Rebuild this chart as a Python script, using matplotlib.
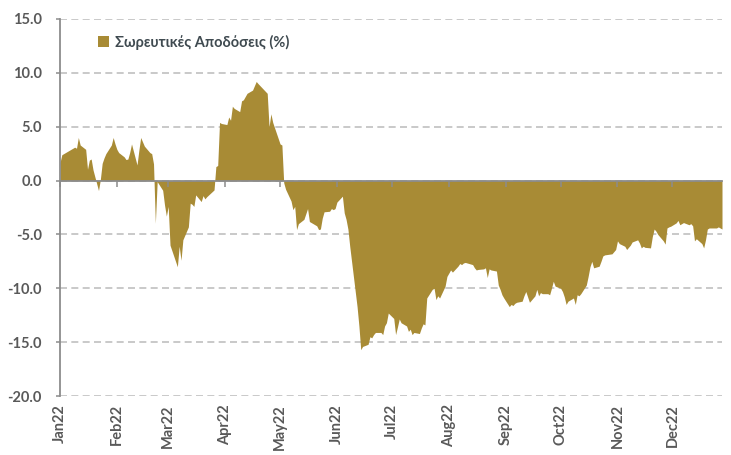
import matplotlib
matplotlib.use("Agg")
import matplotlib.pyplot as plt
import matplotlib.dates as mdates
import pandas as pd

# cumulative returns (%)
jan_dates = ["01-03", "01-04", "01-05", "01-07", "01-10", "01-11", "01-12", "01-13", "01-14", "01-17",
             "01-18", "01-19", "01-20", "01-21", "01-24", "01-25", "01-26", "01-27", "01-28", "01-31"]
jan_vals = [1.67, 2.4, 2.5, 2.7, 3.0, 3.1, 3.0, 4.0, 3.3, 2.9,
            1.05, 1.9, 2.0, 1.0, -0.93, 0.1, 1.6, 2.1, 2.5, 3.3]
feb_dates = ["02-01", "02-02", "02-03", "02-04", "02-07", "02-08", "02-09", "02-10", "02-11", "02-14",
             "02-15", "02-16", "02-17", "02-18", "02-21", "02-22", "02-23", "02-24", "02-25", "02-28"]
feb_vals = [4.0, 3.4, 2.9, 2.6, 2.2, 1.95, 2.0, 2.6, 3.4, 1.45,
            2.8, 4.0, 3.6, 3.2, 2.6, 2.5, 1.55, -3.96, -0.1, -0.9]
mar_dates = ["03-01", "03-02", "03-03", "03-04", "03-08", "03-09", "03-10", "03-11", "03-14", "03-15",
             "03-16", "03-17", "03-18", "03-21", "03-22", "03-23", "03-24", "03-28", "03-29", "03-30", "03-31"]
mar_vals = [-2.26, -3.3, -2.4, -6.0, -8.0, -6.1, -7.4, -5.5, -4.3, -2.1,
            -2.2, -2.4, -1.33, -1.95, -1.4, -1.7, -1.5, -0.87, 1.3, 1.4, 5.4]
apr_dates = ["04-01", "04-04", "04-05", "04-06", "04-07", "04-08", "04-11", "04-12", "04-13", "04-14",
             "04-15", "04-18", "04-19", "04-20", "04-21", "04-26", "04-27", "04-28", "04-29"]
apr_vals = [5.3, 5.2, 5.9, 5.6, 6.9, 6.7, 6.4, 7.4, 7.5, 7.8,
            8.1, 8.4, 8.8, 9.2, 9.0, 8.1, 5.0, 6.2, 5.4]
may_dates = ["05-02", "05-03", "05-04", "05-05", "05-06", "05-09", "05-10", "05-11", "05-12", "05-13",
             "05-16", "05-17", "05-18", "05-19", "05-20", "05-23", "05-24", "05-25", "05-26", "05-27",
             "05-30", "05-31"]
may_vals = [3.9, 3.4, 3.3, -0.2, -0.8, -1.9, -2.7, -2.4, -4.55, -4.0,
            -3.6, -3.1, -2.6, -3.8, -3.9, -4.2, -4.55, -4.5, -3.5, -2.9,
            -2.85, -2.6]
jun_dates = ["06-01", "06-02", "06-03", "06-06", "06-07", "06-08", "06-09", "06-10", "06-14", "06-15",
             "06-16", "06-17", "06-20", "06-21", "06-22", "06-23", "06-24", "06-27", "06-28", "06-29", "06-30"]
jun_vals = [-2.7, -2.6, -2.0, -1.45, -3.0, -3.6, -4.5, -6.1, -11.7, -13.5,
            -15.7, -15.4, -15.2, -14.5, -14.6, -14.3, -14.1, -14.1, -14.3, -13.5, -13.2]
jul_dates = ["07-01", "07-04", "07-05", "07-06", "07-07", "07-08", "07-11", "07-12", "07-13", "07-14",
             "07-15", "07-18", "07-19", "07-20", "07-21", "07-22", "07-25", "07-26", "07-27", "07-28", "07-29"]
jul_vals = [-12.3, -12.8, -14.3, -13.6, -12.85, -13.2, -13.5, -14.0, -13.8, -14.3,
            -14.1, -14.2, -13.7, -13.3, -13.4, -10.9, -10.1, -10.0, -11.05, -10.7, -10.9]
aug_dates = ["08-01", "08-02", "08-03", "08-04", "08-05", "08-08", "08-09", "08-10", "08-11", "08-12",
             "08-16", "08-17", "08-18", "08-19", "08-22", "08-23", "08-24", "08-25", "08-26", "08-29",
             "08-30", "08-31"]
aug_vals = [-9.8, -8.9, -8.6, -8.3, -8.5, -7.95, -7.7, -7.8, -7.65, -7.6,
            -7.8, -8.1, -8.3, -8.25, -8.2, -8.1, -9.0, -8.2, -8.3, -8.4,
            -9.7, -10.1]
sep_dates = ["09-01", "09-02", "09-05", "09-06", "09-07", "09-08", "09-09", "09-12", "09-13", "09-14",
             "09-15", "09-16", "09-19", "09-20", "09-21", "09-22", "09-23", "09-26", "09-27", "09-28",
             "09-29", "09-30"]
sep_vals = [-10.6, -10.9, -11.7, -11.5, -11.6, -11.4, -11.3, -11.2, -10.7, -10.3,
            -10.8, -11.3, -10.7, -10.1, -10.7, -10.4, -10.5, -10.5, -10.6, -10.0,
            -9.35, -9.8]
oct_dates = ["10-03", "10-04", "10-05", "10-06", "10-07", "10-10", "10-11", "10-12", "10-13", "10-14",
             "10-17", "10-18", "10-19", "10-20", "10-21", "10-24", "10-25", "10-26", "10-27", "10-31"]
oct_vals = [-10.0, -10.3, -10.8, -11.5, -11.2, -10.9, -11.5, -10.6, -10.7, -10.5,
            -9.7, -8.9, -8.0, -7.5, -8.1, -7.95, -7.5, -7.0, -6.9, -6.8]
nov_dates = ["11-01", "11-02", "11-03", "11-04", "11-07", "11-08", "11-09", "11-10", "11-11", "11-14",
             "11-15", "11-16", "11-17", "11-18", "11-21", "11-22", "11-23", "11-24", "11-25", "11-28",
             "11-29", "11-30"]
nov_vals = [-6.6, -6.4, -5.6, -5.85, -6.1, -6.4, -6.2, -6.0, -5.7, -5.5,
            -5.8, -6.25, -6.1, -6.2, -6.25, -5.2, -4.5, -4.7, -5.0, -5.6,
            -5.9, -4.4]
dec_dates = ["12-01", "12-02", "12-05", "12-06", "12-07", "12-08", "12-09", "12-12", "12-13", "12-14",
             "12-15", "12-16", "12-19", "12-20", "12-21", "12-22", "12-23", "12-27", "12-28", "12-29", "12-30"]
dec_vals = [-4.3, -4.24, -3.93, -3.7, -4.1, -4.0, -3.9, -4.1, -4.0, -4.2,
            -5.6, -5.4, -5.85, -6.25, -5.5, -4.5, -4.4, -4.4, -4.3, -4.4, -4.5]

series_label = "Σωρευτικές Αποδόσεις (%)"
y_ticks = [15, 10, 5, 0, -5, -10, -15, -20]

all_dates = (jan_dates + feb_dates + mar_dates + apr_dates + may_dates + jun_dates +
             jul_dates + aug_dates + sep_dates + oct_dates + nov_dates + dec_dates)
all_vals = (jan_vals + feb_vals + mar_vals + apr_vals + may_vals + jun_vals +
            jul_vals + aug_vals + sep_vals + oct_vals + nov_vals + dec_vals)
dates = pd.to_datetime(["2022-" + d for d in all_dates])

FILL = "#A88B35"
TXT = "#595959"
AX = "#8C8C8C"
fonts = ["Lato", "Open Sans", "DejaVu Sans"]
plt.rcParams["font.family"] = fonts

fig = plt.figure(figsize=(7.31, 4.55), dpi=100)
ax = fig.add_axes([60 / 731, 59 / 455, 662 / 731, 377 / 455])

ax.fill_between(dates, all_vals, 0, color=FILL, linewidth=0, label=series_label, zorder=2)

ax.set_xlim(dates[0], dates[-1])
ax.set_ylim(-20, 15)
ax.set_yticks(y_ticks)
ax.yaxis.set_major_formatter(plt.FormatStrFormatter("%.1f"))
ax.yaxis.grid(True, color="#C0C0C0", lw=1.2, ls=(0, (4.2, 2.6)))
ax.set_axisbelow(True)

for s in ("top", "right", "bottom"):
    ax.spines[s].set_visible(False)
ax.spines["left"].set_color(AX)
ax.spines["left"].set_linewidth(1.3)
ax.spines["left"].set_zorder(3)
ax.tick_params(axis="x", length=0, labelbottom=False)
ax.tick_params(axis="y", direction="out", length=3, color=AX, width=1.1, pad=10,
               labelsize=10.5, labelcolor=TXT)
for lab in ax.get_yticklabels():
    lab.set_fontweight("bold")

# zero line with month ticks, drawn over the area
zero = ax.secondary_xaxis(0, transform=ax.transData)
zero.set_zorder(3)
zero.xaxis.set_major_locator(mdates.MonthLocator(bymonthday=3))
zero.spines["bottom"].set_color(AX)
zero.spines["bottom"].set_linewidth(1.3)
zero.tick_params(axis="x", direction="out", length=4, color=AX, width=1.1, labelbottom=False)

# month labels under the plot area
sec = ax.secondary_xaxis(0)
sec.xaxis.set_major_locator(mdates.MonthLocator(bymonthday=3))
sec.xaxis.set_major_formatter(mdates.DateFormatter("%b%y"))
sec.spines["bottom"].set_visible(False)
sec.tick_params(axis="x", length=0, pad=6, labelsize=10.5, labelcolor=TXT, labelrotation=90)
for lab in sec.get_xticklabels():
    lab.set_fontweight("bold")

leg = ax.legend(loc="upper left", bbox_to_anchor=(0.058, 0.958), frameon=False,
                borderpad=0, borderaxespad=0, handlelength=0.75, handleheight=0.75,
                handletextpad=0.4, prop={"family": fonts, "weight": "bold", "size": 10.5})
for t in leg.get_texts():
    t.set_color("#3F4A50")

fig.savefig("out.png", dpi=100)
